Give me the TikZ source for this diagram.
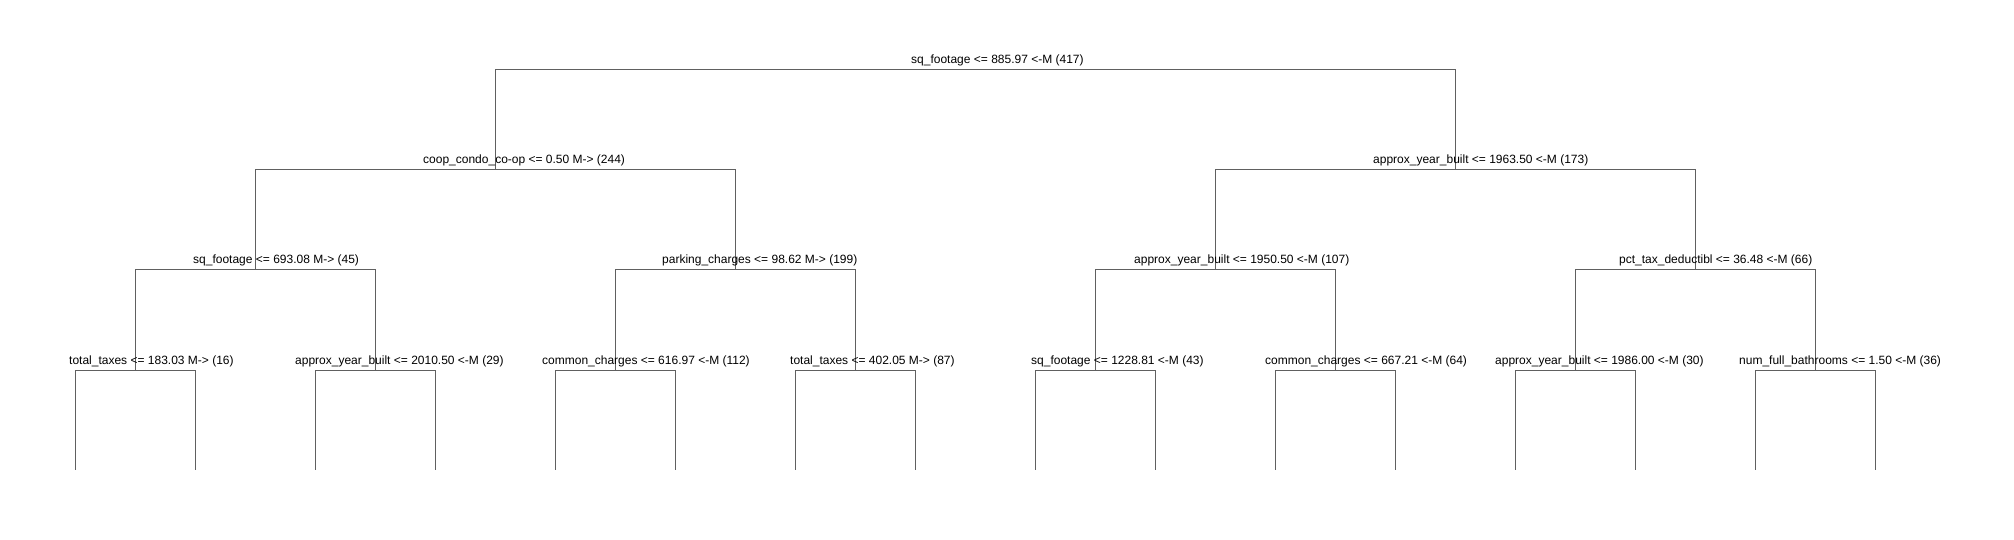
\documentclass[tikz,border=0pt]{standalone}
\usepackage{fontspec}
\setmainfont{Liberation Sans}
\usetikzlibrary{trees}
\definecolor{treeline}{RGB}{96,96,96}
\tikzstyle{split}=[anchor=base west,inner sep=0pt,yshift=6pt,text=black,font=\fontsize{12}{14}\selectfont]

\begin{document}
\begin{tikzpicture}[x=1pt,y=-1pt,
          level distance=100pt,
          level 1/.style={sibling distance=960pt},
          level 2/.style={sibling distance=480pt},
          level 3/.style={sibling distance=240pt},
          level 4/.style={sibling distance=120pt},
          edge from parent/.style={draw=treeline,line width=1pt},
          edge from parent path={(\tikzparentnode) -| (\tikzchildnode)}]
  \useasboundingbox (0,0) rectangle (2014,540);
  \path (975,70) coordinate (N0)
    child { coordinate (N1)
      child { coordinate (N11)
        child { coordinate (N111)
          child { coordinate (L1)}
          child { coordinate (L2)}
        }
        child { coordinate (N112)
          child { coordinate (L3)}
          child { coordinate (L4)}
        }
      }
      child { coordinate (N12)
        child { coordinate (N121)
          child { coordinate (L5)}
          child { coordinate (L6)}
        }
        child { coordinate (N122)
          child { coordinate (L7)}
          child { coordinate (L8)}
        }
      }
    }
    child { coordinate (N2)
      child { coordinate (N21)
        child { coordinate (N211)
          child { coordinate (L9)}
          child { coordinate (L10)}
        }
        child { coordinate (N212)
          child { coordinate (L11)}
          child { coordinate (L12)}
        }
      }
      child { coordinate (N22)
        child { coordinate (N221)
          child { coordinate (L13)}
          child { coordinate (L14)}
        }
        child { coordinate (N222)
          child { coordinate (L15)}
          child { coordinate (L16)}
        }
      }
    };
  % split labels
  \node[split,xshift=-64pt] (T0) at (N0) {sq\_footage <= 885.97 <-M (417)};
  \node[split,xshift=-72pt] (T1) at (N1) {coop\_condo\_co-op <= 0.50 M-> (244)};
  \node[split,xshift=-82pt] (T2) at (N2) {approx\_year\_built <= 1963.50 <-M (173)};
  \node[split,xshift=-62pt] (T11) at (N11) {sq\_footage <= 693.08 M-> (45)};
  \node[split,xshift=-73pt] (T12) at (N12) {parking\_charges <= 98.62 M-> (199)};
  \node[split,xshift=-81pt] (T21) at (N21) {approx\_year\_built <= 1950.50 <-M (107)};
  \node[split,xshift=-76pt] (T22) at (N22) {pct\_tax\_deductibl <= 36.48 <-M (66)};
  \node[split,xshift=-66pt] (T111) at (N111) {total\_taxes <= 183.03 M-> (16)};
  \node[split,xshift=-80pt] (T112) at (N112) {approx\_year\_built <= 2010.50 <-M (29)};
  \node[split,xshift=-73pt] (T121) at (N121) {common\_charges <= 616.97 <-M (112)};
  \node[split,xshift=-65pt] (T122) at (N122) {total\_taxes <= 402.05 M-> (87)};
  \node[split,xshift=-64pt] (T211) at (N211) {sq\_footage <= 1228.81 <-M (43)};
  \node[split,xshift=-70pt] (T212) at (N212) {common\_charges <= 667.21 <-M (64)};
  \node[split,xshift=-80pt] (T221) at (N221) {approx\_year\_built <= 1986.00 <-M (30)};
  \node[split,xshift=-76pt] (T222) at (N222) {num\_full\_bathrooms <= 1.50 <-M (36)};
\end{tikzpicture}
\end{document}
